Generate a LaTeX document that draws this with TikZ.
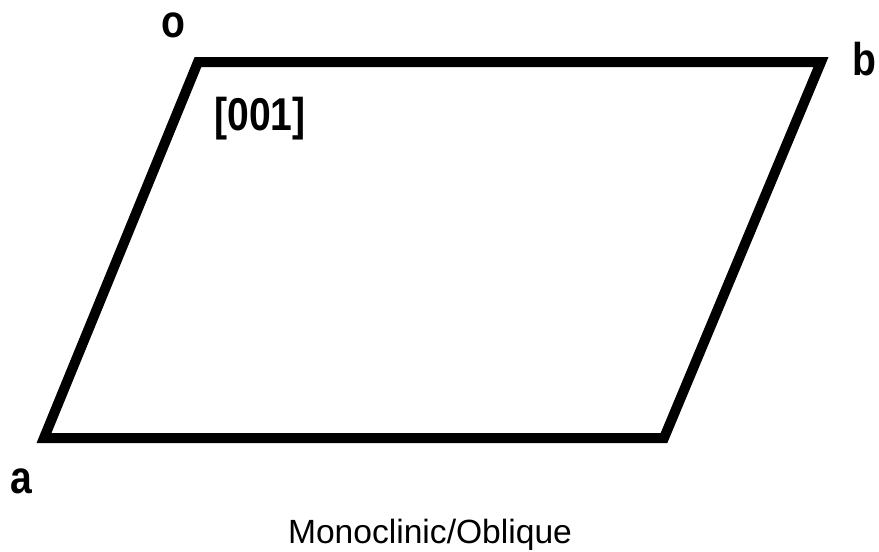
\documentclass[tikz,border=0pt]{standalone}
\usepackage{fontspec}
\setmainfont{Liberation Sans}
\begin{document}
\begin{tikzpicture}[x=1pt,y=-1pt,
  edge/.style={line width=10pt, line join=miter, line cap=rect},
  lbl/.style={font=\fontsize{46}{50}\selectfont\bfseries, inner sep=0pt, anchor=base, xscale=0.85},
  captiontext/.style={font=\fontsize{33.6}{38}\selectfont, inner sep=0pt, anchor=base}]
\useasboundingbox (0,0) rectangle (879,552);
\coordinate (O) at (198,62);
\coordinate (B) at (821,62);
\coordinate (C) at (664,438);
\coordinate (A) at (44,438);
\draw[edge] (O) -- (B) -- (C) -- (A) -- cycle;
\node[lbl] (lo) at (173,37) {o};
\node[lbl] (lb) at (864,75) {b};
\node[lbl] (la) at (21,493) {a};
\node[lbl] (lz) at (260,130) {[001]};
\node[captiontext] (ct) at (430,543) {Monoclinic/Oblique};
\end{tikzpicture}
\end{document}
